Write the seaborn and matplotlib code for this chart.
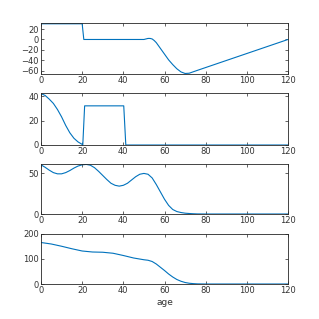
import matplotlib
matplotlib.use("Agg")
import matplotlib.pyplot as plt
import pandas as pd
import seaborn as sns

# panel 1
age1 = [0, 20, 20.8, 50, 51, 52, 53, 54, 55, 56, 58, 60, 62, 64, 66, 68, 70, 72, 76, 120]
val1 = [30, 30, 0, 0, 1, 2, 2, 1, -2, -6, -17, -28, -39, -48, -56, -62, -65, -64.5, -59, 0]

# panel 2
age2 = [0, 2, 4, 6, 8, 10, 12, 14, 16, 18, 20, 20.3, 21.2, 40.2, 41.2, 120]
val2 = [42, 40.5, 37.5, 34, 29, 23, 16, 10, 5.5, 2.5, 0.5, 0, 32, 32, 0, 0]

# panel 3
age3 = [0, 2, 4, 6, 8, 10, 12, 14, 16, 18, 20, 22, 24, 26, 28, 30, 32, 34, 36, 38,
        40, 42, 44, 46, 48, 50, 52, 54, 56, 58, 60, 62, 64, 66, 68, 70, 72, 74, 76, 80, 120]
val3 = [60, 57, 53.5, 50.5, 49, 49, 50.5, 53, 56, 58.5, 60, 60.5, 59.5, 56.5, 52, 47, 42, 37.5, 35, 34,
        35, 37.5, 41.5, 45.5, 48.5, 49.5, 48.5, 44, 36, 27, 18, 10.5, 5.5, 3, 1.8, 1, 0.6, 0.3, 0.1, 0, 0]

# panel 4
age4 = [0, 5, 10, 15, 20, 25, 30, 35, 40, 45, 50, 52, 54, 56, 58, 60, 62, 64, 66, 68,
        70, 72, 74, 76, 80, 120]
val4 = [166, 160, 151, 141, 132, 128, 127, 123, 114, 104, 97, 95, 90, 80, 67, 54, 40, 28, 18, 11,
        6, 3, 1.5, 0.5, 0, 0]

panels = [
    (age1, val1, (-66, 31.5), [-60, -40, -20, 0, 20]),
    (age2, val2, (0, 42.5), [0, 20, 40]),
    (age3, val3, (0, 61), [0, 50]),
    (age4, val4, (0, 200), [0, 100, 200]),
]
xticks = [0, 20, 40, 60, 80, 100, 120]

sns.set_style("ticks")
plt.rcParams['font.family'] = ['Liberation Sans Narrow', 'DejaVu Sans']
plt.rcParams['font.size'] = 6

fig = plt.figure(figsize=(3.19, 3.19), dpi=100)
boxes = [(23, 74), (93, 145), (164, 214), (234, 284)]
axc = '#262626'
for (ages, vals, ylim, yt), (top, bot) in zip(panels, boxes):
    ax = fig.add_axes([41 / 319, 1 - bot / 319, 247 / 319, (bot - top) / 319])
    df = pd.DataFrame({'age': ages, 'value': vals})
    sns.lineplot(data=df, x='age', y='value', ax=ax, color='#0072BD', linewidth=0.8)
    ax.set_xlim(0, 120)
    ax.set_ylim(*ylim)
    ax.set_xticks(xticks)
    ax.set_yticks(yt)
    ax.set_xlabel('')
    ax.set_ylabel('')
    for s in ax.spines.values():
        s.set_visible(True)
        s.set_color(axc)
        s.set_linewidth(0.6)
    ax.tick_params(direction='in', length=2.5, width=0.5, colors=axc,
                   top=True, right=True, labelsize=6, pad=1.5)
    ax.tick_params(labelcolor='#333333')

ax.set_xlabel('age', fontsize=6.5, color='#333333', labelpad=2)

fig.savefig('out.png', dpi=100)
